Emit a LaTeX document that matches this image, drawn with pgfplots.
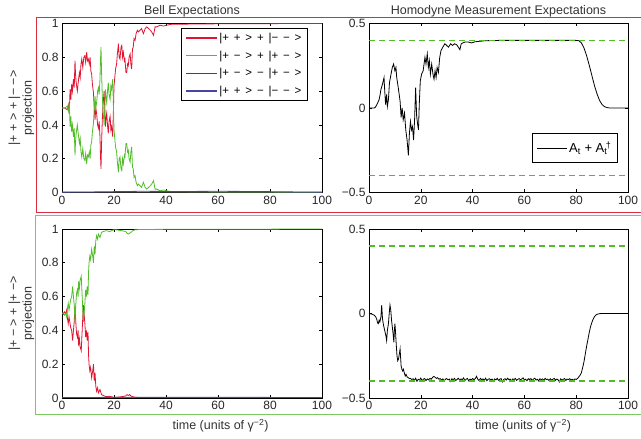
\documentclass[border=0pt]{standalone}
\usepackage{fontspec}
\setmainfont{Liberation Sans}
\usepackage{pgfplots}
\pgfplotsset{compat=1.18}
\definecolor{cred}{RGB}{225,20,50}
\definecolor{cgreen}{RGB}{80,190,40}
\definecolor{cgray}{RGB}{70,70,70}
\definecolor{cblue}{RGB}{70,70,160}
\definecolor{fred}{RGB}{215,45,65}
\definecolor{fgreen}{RGB}{125,200,95}
\definecolor{dgreen}{RGB}{80,190,40}
\protected\def\legfont{\fontsize{11.5bp}{13bp}\selectfont\spaceskip=4.8bp\relax}
\pgfplotsset{
  mybase/.style={
    scale only axis,
    anchor=south west,
    xmin=0, xmax=100,
    xtick={0,20,40,60,80,100},
    xticklabels={0,20,40,60,80,100},
    axis line style={line width=0.8bp},
    every tick/.style={black, line width=0.6bp},
    major tick length=3bp,
    tick label style={font=\fontsize{12bp}{14bp}\selectfont, text=black!85},
    title style={font=\fontsize{12.5bp}{14bp}\selectfont, text=black!80, at={(0.5,1)}, anchor=base, yshift=3bp},
    label style={font=\fontsize{12.5bp}{14bp}\selectfont, text=black!80},
    legend image code/.code={\draw[#1, line width=1.2bp] (0bp,0bp) -- (31bp,0bp);},
  },
  leftax/.style={mybase, width=260bp, height=169bp, ymin=0, ymax=1,
    ytick={0,0.2,0.4,0.6,0.8,1}, yticklabels={0,0.2,0.4,0.6,0.8,1},
    ylabel style={align=center, at={(axis description cs:-0.156,0.5)}, anchor=center}},
  rightax/.style={mybase, width=259bp, height=169bp, ymin=-0.5, ymax=0.5,
    ytick={-0.5,0,0.5}, yticklabels={−0.5,0,0.5}},
  bl/.style={line width=0.8bp},
  dl/.style={dgreen, line width=1.3bp, dash pattern=on 6bp off 4bp, forget plot},
}
\begin{document}
\begin{tikzpicture}[x=1bp,y=1bp]
\path[use as bounding box] (0,0) rectangle (641,439);
\draw[fred, line width=1bp] (36,226) rectangle (700,421);
\draw[fgreen, line width=1bp] (35.5,24.5) rectangle (700,223.7);

% ---------------- top left ----------------
\begin{axis}[leftax, at={(62bp,246.5bp)}, title={Bell Expectations},
  ylabel={|+ + > + |− −>\\projection},
  legend style={at={(0.945,0.975)}, anchor=north east, draw=black, line width=0.9bp,
    font=\legfont, row sep=3.8bp, inner xsep=4bp, inner ysep=3bp,
    cells={anchor=west}}]
\addplot[cred, bl] coordinates {
(0,0.50)(1,0.50)(2,0.49)(2.4,0.52)(2.8,0.47)(3.1,0.61)(3.4,0.55)(3.7,0.64)(4.0,0.60)(4.4,0.67)
(4.7,0.62)(5.0,0.78)(5.2,0.70)(5.4,0.66)(5.7,0.62)(5.9,0.60)(6.3,0.66)(6.7,0.71)(7.0,0.68)(7.3,0.76)
(7.6,0.79)(8.0,0.74)(8.4,0.80)(8.8,0.81)(9.1,0.77)(9.5,0.83)(9.8,0.78)(10.1,0.79)(10.5,0.76)(10.8,0.80)
(11.1,0.72)(11.4,0.70)(11.7,0.64)(12.1,0.59)(12.4,0.50)(12.7,0.43)(13.0,0.50)(13.3,0.47)(13.7,0.40)(14.0,0.38)
(14.3,0.42)(14.6,0.33)(14.8,0.22)(15.0,0.14)(15.2,0.28)(15.5,0.43)(15.8,0.52)(16.2,0.60)(16.5,0.48)(16.7,0.39)
(17.0,0.45)(17.2,0.47)(17.5,0.40)(17.8,0.35)(18.1,0.42)(18.5,0.45)(18.8,0.37)(19.1,0.39)(19.5,0.33)(19.8,0.50)
(20.0,0.63)(20.3,0.68)(20.6,0.73)(21.0,0.76)(21.3,0.82)(21.7,0.88)(22.0,0.80)(22.3,0.79)(22.7,0.86)(23.0,0.87)
(23.3,0.80)(23.6,0.83)(24.0,0.78)(24.2,0.79)(24.6,0.71)(24.9,0.71)(25.2,0.76)(25.5,0.75)(25.8,0.80)(26.2,0.82)
(26.5,0.76)(26.8,0.73)(27.1,0.85)(27.4,0.86)(27.7,0.91)(28.1,0.90)(28.5,0.94)(29.0,0.96)(29.4,0.95)(30.0,0.96)
(30.6,0.97)(31.3,0.94)(32.0,0.97)(32.6,0.98)(33.3,0.97)(34.0,0.96)(34.5,0.95)(35.2,0.93)(35.8,0.98)(36.5,0.98)
(37.7,0.99)(39,0.985)(40.3,0.99)(42,0.995)(45.4,0.995)(50,0.997)(60,0.998)(70,0.999)(80,0.999)(90,1.0)(100,1.0)};
\addlegendentry{|+ + > + |− − >}
\addplot[cgreen, bl] coordinates {
(0,0.50)(1,0.50)(2,0.51)(2.4,0.48)(2.8,0.53)(3.1,0.39)(3.4,0.45)(3.7,0.36)(4.0,0.40)(4.4,0.33)
(4.7,0.38)(5.0,0.22)(5.2,0.30)(5.4,0.34)(5.7,0.38)(5.9,0.40)(6.3,0.34)(6.7,0.29)(7.0,0.32)(7.3,0.24)
(7.6,0.21)(8.0,0.26)(8.4,0.20)(8.8,0.19)(9.1,0.23)(9.5,0.17)(9.8,0.22)(10.1,0.21)(10.5,0.24)(10.8,0.20)
(11.1,0.28)(11.4,0.30)(11.7,0.36)(12.1,0.41)(12.4,0.50)(12.7,0.57)(13.0,0.50)(13.3,0.53)(13.7,0.60)(14.0,0.62)
(14.3,0.58)(14.6,0.67)(14.8,0.78)(15.0,0.86)(15.2,0.72)(15.5,0.57)(15.8,0.48)(16.2,0.40)(16.5,0.52)(16.7,0.61)
(17.0,0.55)(17.2,0.53)(17.5,0.60)(17.8,0.65)(18.1,0.58)(18.5,0.55)(18.8,0.63)(19.1,0.61)(19.5,0.67)(19.8,0.50)
(20.0,0.37)(20.3,0.32)(20.6,0.27)(21.0,0.24)(21.3,0.18)(21.7,0.12)(22.0,0.20)(22.3,0.21)(22.7,0.14)(23.0,0.13)
(23.3,0.20)(23.6,0.17)(24.0,0.22)(24.2,0.21)(24.6,0.29)(24.9,0.29)(25.2,0.24)(25.5,0.25)(25.8,0.20)(26.2,0.18)
(26.5,0.24)(26.8,0.27)(27.1,0.15)(27.4,0.14)(27.7,0.09)(28.1,0.10)(28.5,0.06)(29.0,0.04)(29.4,0.05)(30.0,0.04)
(30.6,0.03)(31.3,0.06)(32.0,0.03)(32.6,0.02)(33.3,0.03)(34.0,0.04)(34.5,0.05)(35.2,0.07)(35.8,0.02)(36.5,0.02)
(37.7,0.01)(39,0.015)(40.3,0.01)(42,0.005)(45.4,0.005)(50,0.003)(60,0.002)(70,0.001)(80,0.001)(90,0.0)(100,0.0)};
\addlegendentry{|+ − > + |+ − >}
\addplot[cgray, bl] coordinates {(0,0.001)(20,0.002)(50,0.002)(85,0.002)(100,0.001)};
\addlegendentry{|+ − > − |+ − >}
\addplot[cblue, bl] coordinates {(0,0.002)(10,0.003)(20,0.005)(30,0.007)(45,0.006)(60,0.007)(75,0.006)(85,0.004)(100,0.002)};
\addlegendentry{|+ + > − |− − >}
\end{axis}

% ---------------- top right ----------------
\begin{axis}[rightax, at={(369bp,246.5bp)}, title={Homodyne Measurement Expectations},
  legend style={at={(0.961,0.174)}, anchor=south east, draw=black, line width=0.9bp,
    font=\fontsize{13bp}{15bp}\selectfont, inner xsep=4bp, inner ysep=6.5bp},
  legend image code/.code={\draw[#1, line width=0.8bp] (0bp,0bp) -- (30bp,0bp);}]
\addplot[black, bl] coordinates {
(0,0)(1,0)(2,0)(2.5,0.005)(3.0,0.02)(3.5,0.035)(3.9,0.05)(4.3,0.08)(4.6,0.11)(5.0,0.13)
(5.5,0.16)(5.8,0.18)(6.0,0.12)(6.4,0.02)(6.8,0.08)(7.1,0.01)(7.5,0.05)(7.9,0.15)(8.5,0.20)(9.0,0.24)
(9.5,0.26)(10.0,0.22)(10.4,0.24)(10.7,0.18)(11.3,0.12)(12.0,0.04)(12.4,-0.055)(12.8,0.0)(13.2,-0.07)(13.7,-0.03)
(14.2,-0.13)(14.7,-0.19)(15.2,-0.28)(15.6,-0.15)(16.0,-0.08)(16.4,-0.13)(16.8,-0.11)(17.2,-0.19)(17.6,-0.07)(18.0,0.12)
(18.4,-0.05)(18.8,-0.10)(19.1,-0.13)(19.4,0.02)(19.8,0.16)(20.3,0.20)(20.9,0.22)(21.6,0.30)(22.0,0.26)(22.5,0.32)
(22.9,0.24)(23.3,0.28)(23.7,0.20)(24.2,0.26)(24.7,0.20)(25.1,0.17)(25.5,0.22)(25.9,0.18)(26.3,0.24)(26.8,0.21)
(27.3,0.30)(27.8,0.34)(28.5,0.36)(29.3,0.38)(30.0,0.37)(30.7,0.36)(31.5,0.38)(32.3,0.37)(33.0,0.38)(33.8,0.375)
(34.5,0.36)(35.1,0.345)(35.6,0.38)(36.2,0.385)(37.1,0.39)(38.4,0.39)(39.6,0.385)(41,0.392)(43,0.395)(44.8,0.398)
(50,0.4)(60,0.4)(70,0.4)(78,0.4)(80,0.4)(81,0.398)(82,0.385)(83,0.355)(84,0.31)(85,0.255)
(86,0.195)(87,0.135)(88,0.085)(89,0.045)(90,0.02)(91,0.007)(92,0.002)(93,0)(100,0)};
\addlegendentry{A\textsubscript{t} + A\textsubscript{t}\kern-1.5bp\textsuperscript{†}}
\addplot[dl] coordinates {(0,0.4)(100,0.4)};
\addplot[dl] coordinates {(0,-0.4)(100,-0.4)};
\end{axis}

% ---------------- bottom left ----------------
\begin{axis}[leftax, at={(62bp,41bp)},
  ylabel={|+ − > + |+ −>\\projection},
  xlabel={time (units of γ\textsuperscript{−2})},
  xlabel style={at={(axis description cs:0.61,0)}, anchor=base, yshift=-32bp}]
\addplot[cred, bl] coordinates {
(0,0.50)(0.5,0.495)(1.0,0.51)(1.5,0.50)(1.8,0.52)(2.1,0.47)(2.4,0.44)(2.7,0.48)(3.0,0.45)(3.3,0.42)
(3.7,0.40)(4.1,0.34)(4.4,0.40)(4.7,0.45)(5.0,0.55)(5.3,0.45)(5.6,0.38)(5.9,0.36)(6.2,0.40)(6.4,0.31)
(6.7,0.35)(7.0,0.30)(7.4,0.28)(7.7,0.38)(8.0,0.48)(8.2,0.55)(8.5,0.50)(8.8,0.44)(9.1,0.36)(9.4,0.40)
(9.7,0.34)(10.0,0.39)(10.2,0.26)(10.4,0.20)(10.7,0.16)(11.0,0.18)(11.4,0.12)(11.8,0.16)(12.1,0.20)(12.4,0.10)
(12.7,0.15)(13.0,0.07)(13.3,0.04)(13.7,0.06)(14.0,0.03)(14.6,0.05)(15.2,0.02)(15.9,0.015)(17,0.008)(18.4,0.01)
(19.8,0.004)(21,0.004)(23,0.008)(24.5,0.012)(25.0,0.02)(25.5,0.015)(26.0,0.02)(26.5,0.012)(27.2,0.008)(28,0.004)
(30,0.003)(40,0.002)(60,0.002)(80,0.001)(90,0.0)(100,0.0)};
\addplot[cgreen, bl] coordinates {
(0,0.50)(0.5,0.505)(1.0,0.49)(1.5,0.50)(1.8,0.48)(2.1,0.53)(2.4,0.56)(2.7,0.52)(3.0,0.55)(3.3,0.58)
(3.7,0.60)(4.1,0.66)(4.4,0.60)(4.7,0.55)(5.0,0.45)(5.3,0.55)(5.6,0.62)(5.9,0.64)(6.2,0.60)(6.4,0.69)
(6.7,0.65)(7.0,0.70)(7.4,0.72)(7.7,0.62)(8.0,0.52)(8.2,0.45)(8.5,0.50)(8.8,0.56)(9.1,0.64)(9.4,0.60)
(9.7,0.66)(10.0,0.61)(10.2,0.74)(10.4,0.80)(10.7,0.84)(11.0,0.82)(11.4,0.88)(11.8,0.84)(12.1,0.80)(12.4,0.90)
(12.7,0.85)(13.0,0.93)(13.3,0.96)(13.7,0.94)(14.0,0.97)(14.6,0.95)(15.2,0.98)(15.9,0.985)(17,0.99)(18.4,0.985)
(19.8,0.995)(21,0.995)(23,0.99)(24.5,0.985)(25.0,0.975)(25.5,0.97)(26.0,0.975)(26.5,0.98)(27.2,0.99)(28,0.995)
(30,0.997)(40,0.998)(60,0.998)(80,0.999)(90,1.0)(100,1.0)};
\addplot[cgray, bl] coordinates {(0,0.001)(20,0.002)(50,0.002)(85,0.002)(100,0.001)};
\addplot[cblue, bl] coordinates {(0,0.002)(10,0.003)(20,0.004)(30,0.005)(45,0.004)(60,0.005)(75,0.004)(85,0.003)(100,0.002)};
\end{axis}

% ---------------- bottom right ----------------
\begin{axis}[rightax, at={(369bp,41bp)},
  xlabel={time (units of γ\textsuperscript{−2})},
  xlabel style={at={(axis description cs:0.595,0)}, anchor=base, yshift=-32bp}]
\addplot[black, bl] coordinates {
(0,0)(1,-0.003)(2,-0.01)(2.6,-0.02)(3.0,-0.035)(3.3,-0.055)(3.6,-0.06)(3.9,-0.04)(4.2,-0.05)(4.6,-0.02)
(4.9,0.05)(5.2,-0.03)(5.5,-0.06)(5.9,-0.09)(6.2,-0.11)(6.5,-0.13)(6.8,-0.16)(7.1,-0.10)(7.5,-0.06)(7.8,0.0)
(8.1,0.05)(8.4,0.02)(8.7,-0.04)(9.0,-0.08)(9.3,-0.12)(9.6,-0.17)(9.8,-0.10)(10.0,-0.06)(10.2,-0.1)(10.5,-0.18)
(10.8,-0.25)(11.1,-0.28)(11.4,-0.27)(11.7,-0.24)(12.0,-0.21)(12.2,-0.26)(12.4,-0.31)(12.7,-0.33)(13.0,-0.34)(13.3,-0.33)
(13.6,-0.35)(14.0,-0.37)(14.3,-0.36)(14.7,-0.375)(15.2,-0.38)(15.6,-0.385)
(16,-0.384)(16.5,-0.391)(17,-0.386)(17.5,-0.396)(18,-0.383)(18.5,-0.401)(19,-0.389)(19.5,-0.394)(20,-0.382)(20.5,-0.398)
(21,-0.388)(21.5,-0.385)(22,-0.397)(22.5,-0.387)(23,-0.393)(23.5,-0.384)(24,-0.389)(24.5,-0.379)(25,-0.372)(25.5,-0.377)
(26,-0.384)(26.5,-0.380)(27,-0.389)(27.5,-0.385)(28,-0.394)(28.5,-0.387)(29,-0.399)(29.5,-0.389)(30,-0.385)(30.5,-0.393)
(31,-0.388)(31.5,-0.402)(32,-0.386)(32.5,-0.392)(33,-0.384)(33.5,-0.397)(34,-0.390)(34.5,-0.383)(35,-0.395)(35.5,-0.387)
(36,-0.392)(36.5,-0.381)(37,-0.396)(37.5,-0.389)(38,-0.384)(38.5,-0.399)(39,-0.388)(39.5,-0.393)(40,-0.385)(40.5,-0.391)
(41,-0.386)(41.5,-0.371)(42,-0.389)(42.5,-0.397)(43,-0.384)(43.5,-0.392)(44,-0.387)(44.5,-0.395)(45,-0.383)(45.5,-0.398)
(46,-0.389)(46.5,-0.386)(47,-0.394)(47.5,-0.388)(48,-0.401)(48.5,-0.387)(49,-0.393)(49.5,-0.384)(50,-0.396)(50.5,-0.389)
(51,-0.385)(51.5,-0.405)(52,-0.390)(52.5,-0.386)(53,-0.394)(53.5,-0.383)(54,-0.392)(54.5,-0.388)(55,-0.399)(55.5,-0.387)
(56,-0.391)(56.5,-0.384)(57,-0.396)(57.5,-0.389)(58,-0.385)(58.5,-0.393)(59,-0.387)(59.5,-0.381)(60,-0.394)(60.5,-0.389)
(61,-0.398)(61.5,-0.386)(62,-0.391)(62.5,-0.385)(63,-0.396)(63.5,-0.388)(64,-0.383)(64.5,-0.394)(65,-0.389)(65.5,-0.399)
(66,-0.386)(66.5,-0.392)(67,-0.387)(67.5,-0.395)(68,-0.384)(68.5,-0.391)(69,-0.388)(69.5,-0.397)(70,-0.386)(70.5,-0.393)
(71,-0.389)(71.5,-0.384)(72,-0.395)(72.5,-0.388)(73,-0.392)(73.5,-0.405)(74,-0.387)(74.5,-0.394)(75,-0.389)(75.5,-0.385)
(76,-0.396)(76.5,-0.388)(77,-0.391)(77.5,-0.386)(78,-0.393)(78.5,-0.389)(79,-0.395)(79.5,-0.387)(80,-0.390)(80.5,-0.385)
(81,-0.375)(81.5,-0.365)(82,-0.35)(82.5,-0.32)(83,-0.285)(83.5,-0.24)(84,-0.195)(84.5,-0.155)(85,-0.115)(85.5,-0.08)
(86,-0.055)(86.5,-0.035)(87,-0.02)(87.5,-0.01)(88,-0.005)(89,-0.001)(90,0)(100,0)};
\addplot[dl] coordinates {(0,0.4)(100,0.4)};
\addplot[dl] coordinates {(0,-0.4)(100,-0.4)};
\end{axis}
\end{tikzpicture}
\end{document}
